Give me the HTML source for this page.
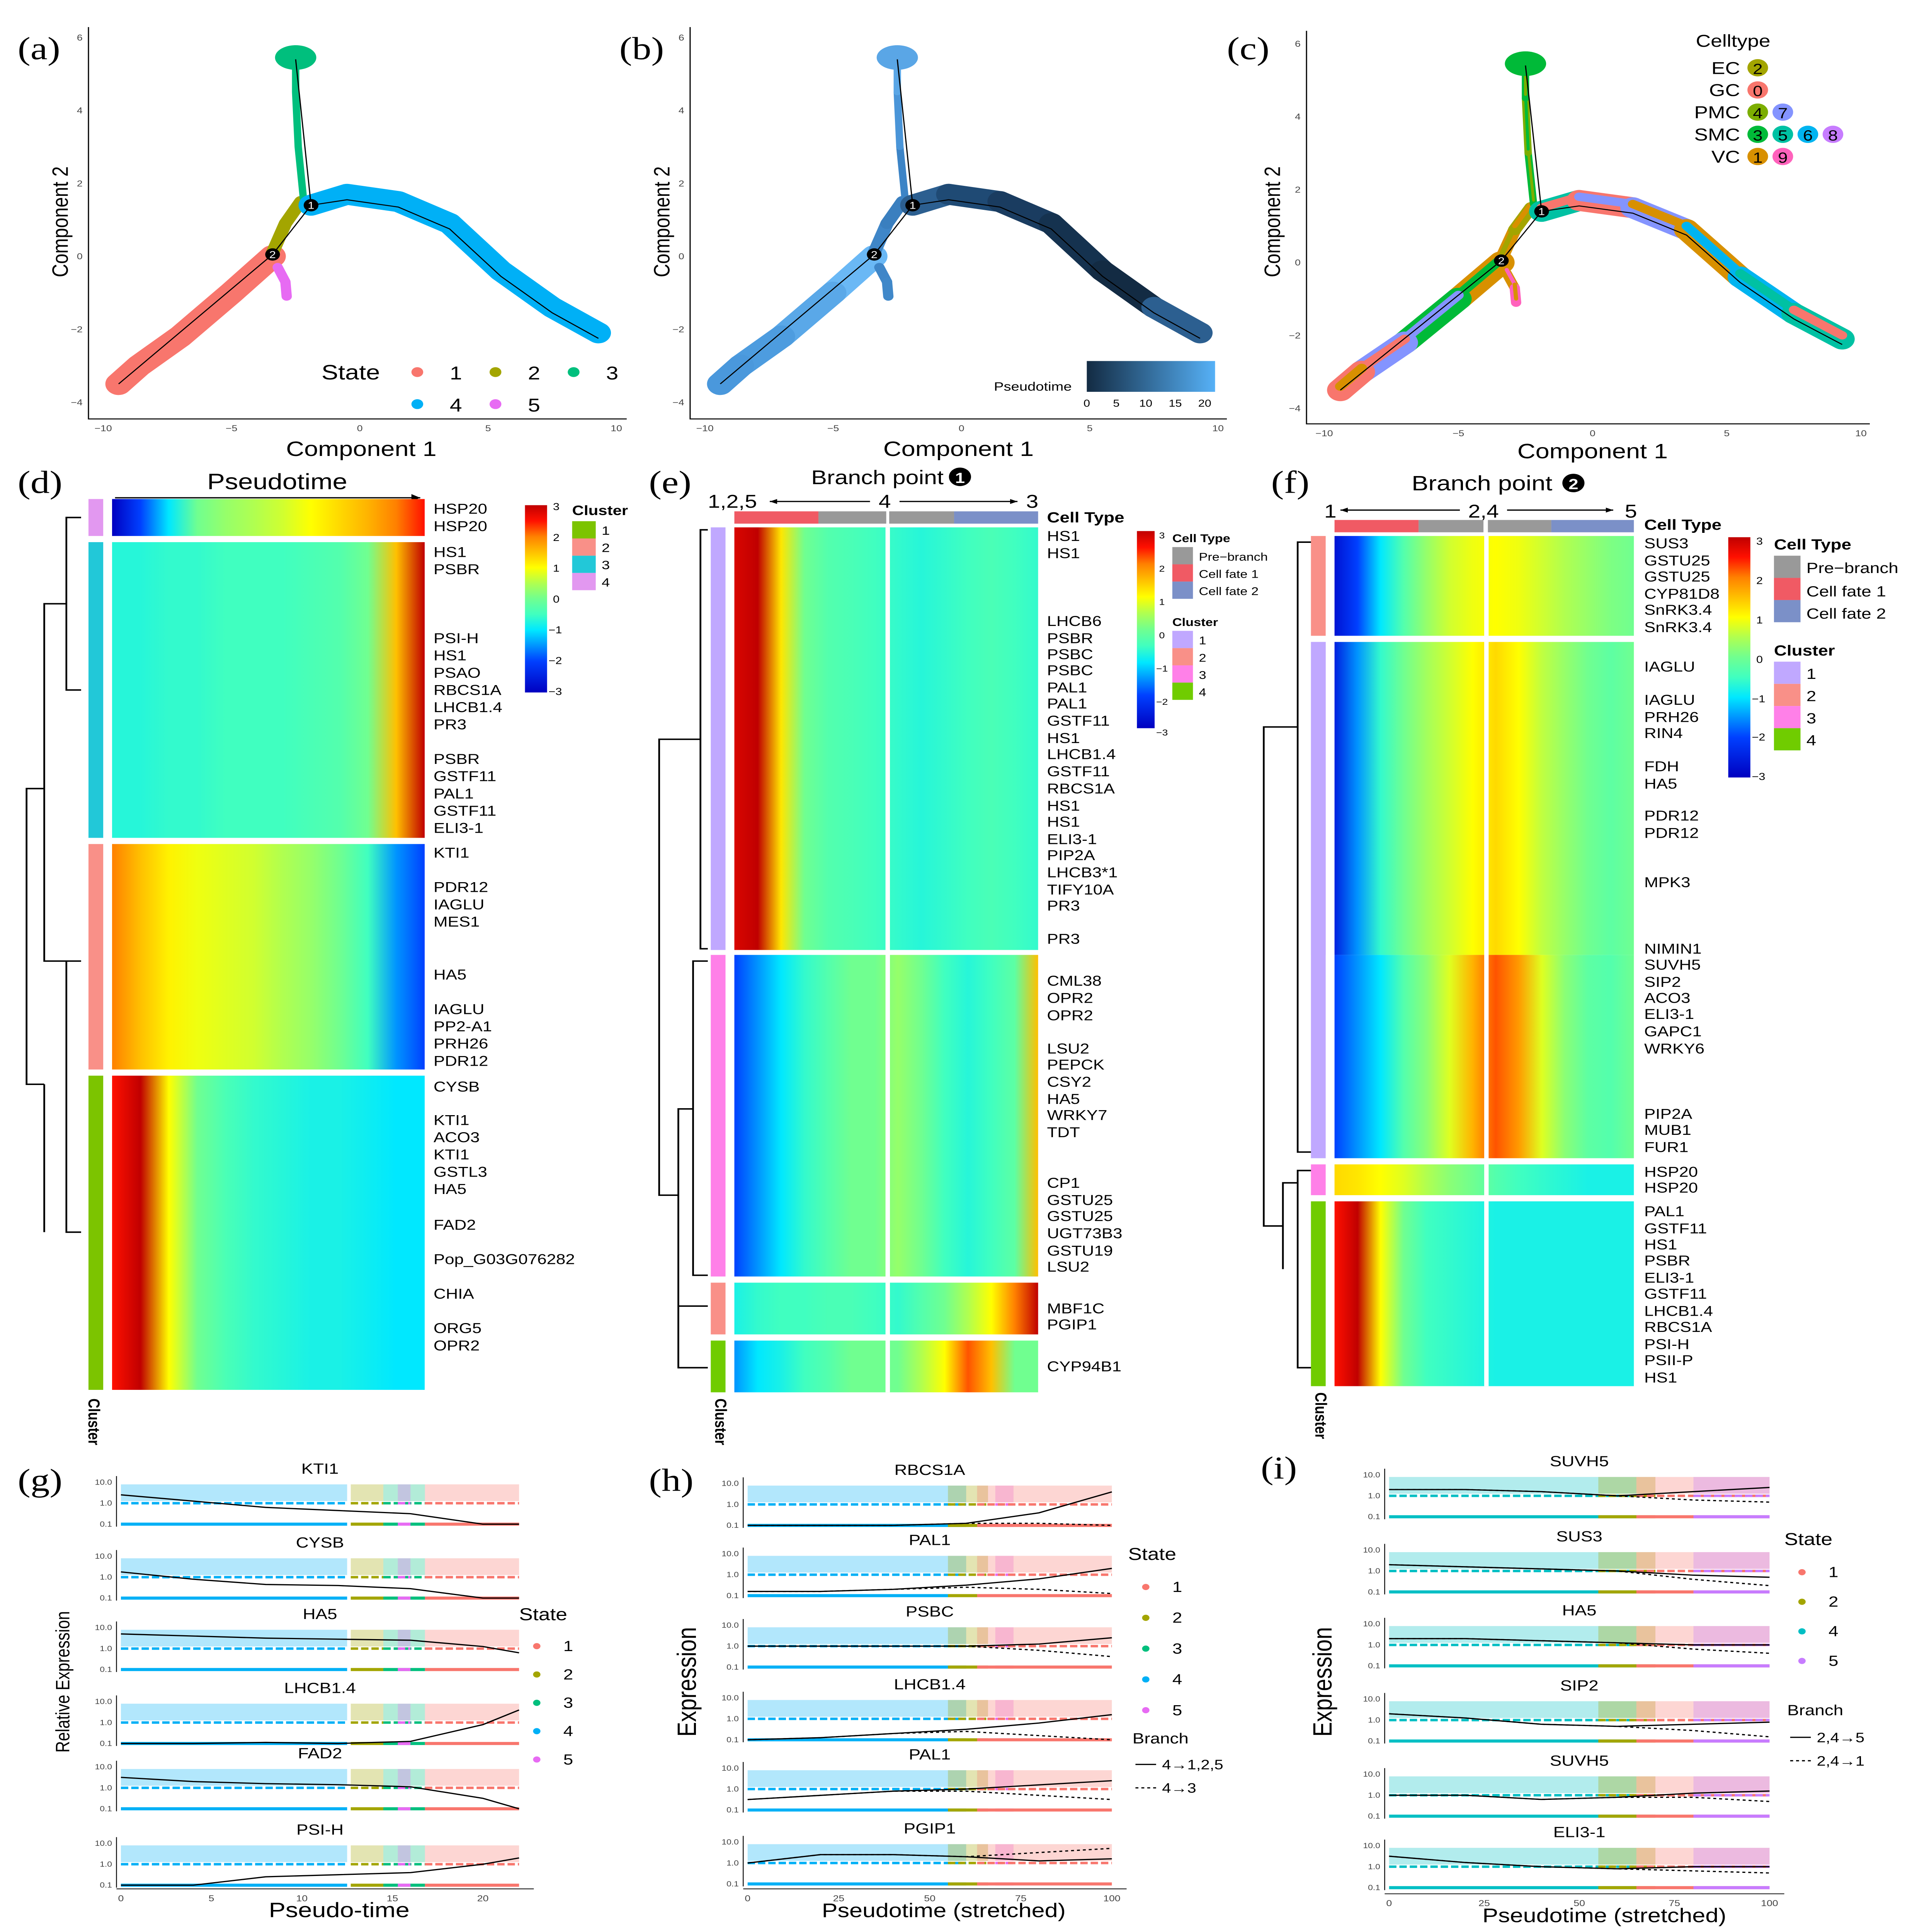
<!DOCTYPE html>
<html><head><meta charset="utf-8"><style>
html,body{margin:0;padding:0;background:#fff;overflow:hidden;width:100vw;height:100vh}
svg{display:block;width:100vw;height:100vh}
text{font-family:"Liberation Sans",sans-serif}
.serif{font-family:"Liberation Serif",serif}
</style></head><body>
<svg id="fig" xmlns="http://www.w3.org/2000/svg" viewBox="0 0 1300 1568" preserveAspectRatio="none">
<defs id="defs"></defs>
<rect x="0" y="0" width="1300" height="1568" fill="#fff"/>
<g id="static" font-size="12">
<text class="serif" x="12" y="48" font-size="26">(a)</text>
<text class="serif" x="420" y="48" font-size="26">(b)</text>
<text class="serif" x="832" y="48" font-size="26">(c)</text>
<text class="serif" x="12" y="400" font-size="26">(d)</text>
<text class="serif" x="440" y="400" font-size="26">(e)</text>
<text class="serif" x="862" y="400" font-size="26">(f)</text>
<text class="serif" x="12" y="1210" font-size="26">(g)</text>
<text class="serif" x="440" y="1210" font-size="26">(h)</text>
<text class="serif" x="855" y="1200" font-size="26">(i)</text>
<text x="245" y="370" font-size="17" text-anchor="middle">Component 1</text>
<text x="650" y="370" font-size="17" text-anchor="middle">Component 1</text>
<text x="1080" y="372" font-size="17" text-anchor="middle">Component 1</text>
<text transform="translate(46,180) rotate(-90)" font-size="15" text-anchor="middle">Component 2</text>
<text transform="translate(454,180) rotate(-90)" font-size="15" text-anchor="middle">Component 2</text>
<text transform="translate(868,180) rotate(-90)" font-size="15" text-anchor="middle">Component 2</text>
<g>
<text x="218" y="308" font-size="17">State</text>
<circle cx="283" cy="302" r="4" fill="#F8766D"/><text x="305" y="308" font-size="15">1</text>
<circle cx="336" cy="302" r="4" fill="#A3A500"/><text x="358" y="308" font-size="15">2</text>
<circle cx="389" cy="302" r="4" fill="#00BF7D"/><text x="411" y="308" font-size="15">3</text>
<circle cx="283" cy="328" r="4" fill="#00B0F6"/><text x="305" y="334" font-size="15">4</text>
<circle cx="336" cy="328" r="4" fill="#E76BF3"/><text x="358" y="334" font-size="15">5</text>
</g>
<g>
<text x="674" y="317" font-size="10">Pseudotime</text>
<rect x="737" y="293" width="87" height="25" fill="url(#ptgrad)"/>
<text x="737" y="330" font-size="8" text-anchor="middle">0</text>
<text x="757" y="330" font-size="8" text-anchor="middle">5</text>
<text x="777" y="330" font-size="8" text-anchor="middle">10</text>
<text x="797" y="330" font-size="8" text-anchor="middle">15</text>
<text x="817" y="330" font-size="8" text-anchor="middle">20</text>
</g>
<g font-size="14">
<text x="1150" y="38">Celltype</text>
<text x="1180" y="60" text-anchor="end">EC</text><circle cx="1192" cy="55" r="7" fill="#A3A500"/><text x="1192" y="60" text-anchor="middle" font-size="12">2</text>
<text x="1180" y="78" text-anchor="end">GC</text><circle cx="1192" cy="73" r="7" fill="#F8766D"/><text x="1192" y="78" text-anchor="middle" font-size="12">0</text>
<text x="1180" y="96" text-anchor="end">PMC</text><circle cx="1192" cy="91" r="7" fill="#7CAE00"/><text x="1192" y="96" text-anchor="middle" font-size="12">4</text><circle cx="1209" cy="91" r="7" fill="#8494FF"/><text x="1209" y="96" text-anchor="middle" font-size="12">7</text>
<text x="1180" y="114" text-anchor="end">SMC</text><circle cx="1192" cy="109" r="7" fill="#00BA38"/><text x="1192" y="114" text-anchor="middle" font-size="12">3</text><circle cx="1209" cy="109" r="7" fill="#00C1A3"/><text x="1209" y="114" text-anchor="middle" font-size="12">5</text><circle cx="1226" cy="109" r="7" fill="#00B4F0"/><text x="1226" y="114" text-anchor="middle" font-size="12">6</text><circle cx="1243" cy="109" r="7" fill="#C77CFF"/><text x="1243" y="114" text-anchor="middle" font-size="12">8</text>
<text x="1180" y="132" text-anchor="end">VC</text><circle cx="1192" cy="127" r="7" fill="#D89000"/><text x="1192" y="132" text-anchor="middle" font-size="12">1</text><circle cx="1209" cy="127" r="7" fill="#FF62BC"/><text x="1209" y="132" text-anchor="middle" font-size="12">9</text>
</g>
<text x="188" y="397" font-size="18" text-anchor="middle">Pseudotime</text>
<line x1="78" y1="404" x2="285" y2="404" stroke="#000" stroke-width="1"/><path d="M285,404 l-6,-3 v6z" fill="#000"/>
<text x="595" y="393" font-size="16" text-anchor="middle">Branch point</text>
<circle cx="651" cy="387" r="7.5" fill="#000"/><text x="651" y="392" font-size="12" fill="#fff" text-anchor="middle" font-weight="bold">1</text>
<text x="480" y="412" font-size="15">1,2,5</text><text x="600" y="412" font-size="15" text-anchor="middle">4</text><text x="700" y="412" font-size="15" text-anchor="middle">3</text>
<line x1="522" y1="407" x2="590" y2="407" stroke="#000"/><path d="M522,407 l5,-2 v4z"/><line x1="610" y1="407" x2="690" y2="407" stroke="#000"/><path d="M690,407 l-5,-2 v4z"/>
<text x="1005" y="398" font-size="17" text-anchor="middle">Branch point</text>
<circle cx="1067" cy="392" r="7.5" fill="#000"/><text x="1067" y="397" font-size="12" fill="#fff" text-anchor="middle" font-weight="bold">2</text>
<text x="898" y="420" font-size="15">1</text><text x="1006" y="420" font-size="15" text-anchor="middle">2,4</text><text x="1106" y="420" font-size="15" text-anchor="middle">5</text>
<line x1="909" y1="414" x2="990" y2="414" stroke="#000"/><path d="M909,414 l5,-2 v4z"/><line x1="1022" y1="414" x2="1094" y2="414" stroke="#000"/><path d="M1094,414 l-5,-2 v4z"/>
<g>
<rect x="498" y="415" width="57" height="10" fill="#F05A64"/><rect x="555" y="415" width="46" height="10" fill="#999"/><rect x="603" y="415" width="44" height="10" fill="#999"/><rect x="647" y="415" width="57" height="10" fill="#7B90C8"/>
</g>
<text x="710" y="424" font-size="12" font-weight="bold">Cell Type</text>
<g>
<rect x="905" y="422" width="57" height="10" fill="#F05A64"/><rect x="962" y="422" width="44" height="10" fill="#999"/><rect x="1009" y="422" width="43" height="10" fill="#999"/><rect x="1052" y="422" width="56" height="10" fill="#7B90C8"/>
</g>
<text x="1115" y="430" font-size="12" font-weight="bold">Cell Type</text>
<g font-size="8">
<rect x="356" y="410" width="15" height="152" fill="url(#cbar)"/>
<text x="375" y="414">3</text><text x="375" y="439">2</text><text x="375" y="464">1</text><text x="375" y="489">0</text><text x="372" y="514">−1</text><text x="372" y="539">−2</text><text x="372" y="564">−3</text>
<text x="388" y="418" font-size="11" font-weight="bold">Cluster</text>
<rect x="388" y="423" width="16" height="14" fill="#7CC400"/><text x="408" y="434" font-size="10">1</text>
<rect x="388" y="437" width="16" height="14" fill="#F99088"/><text x="408" y="448" font-size="10">2</text>
<rect x="388" y="451" width="16" height="14" fill="#22C8D8"/><text x="408" y="462" font-size="10">3</text>
<rect x="388" y="465" width="16" height="14" fill="#E298F0"/><text x="408" y="476" font-size="10">4</text>
</g>
<g font-size="7">
<rect x="771" y="431" width="12" height="160" fill="url(#cbar)"/>
<text x="786" y="437">3</text><text x="786" y="464">2</text><text x="786" y="491">1</text><text x="786" y="518">0</text><text x="784" y="545">−1</text><text x="784" y="572">−2</text><text x="784" y="597">−3</text>
<text x="795" y="440" font-size="9" font-weight="bold">Cell Type</text>
<rect x="795" y="444" width="14" height="14" fill="#999"/><text x="813" y="455" font-size="9">Pre−branch</text>
<rect x="795" y="458" width="14" height="14" fill="#F05A64"/><text x="813" y="469" font-size="9">Cell fate 1</text>
<rect x="795" y="472" width="14" height="14" fill="#7B90C8"/><text x="813" y="483" font-size="9">Cell fate 2</text>
<text x="795" y="508" font-size="9" font-weight="bold">Cluster</text>
<rect x="795" y="512" width="14" height="14" fill="#C0A8FF"/><text x="813" y="523" font-size="9">1</text>
<rect x="795" y="526" width="14" height="14" fill="#F99088"/><text x="813" y="537" font-size="9">2</text>
<rect x="795" y="540" width="14" height="14" fill="#FF80E8"/><text x="813" y="551" font-size="9">3</text>
<rect x="795" y="554" width="14" height="14" fill="#70CC00"/><text x="813" y="565" font-size="9">4</text>
</g>
<g font-size="8">
<rect x="1172" y="436" width="15" height="195" fill="url(#cbar)"/>
<text x="1191" y="442">3</text><text x="1191" y="474">2</text><text x="1191" y="506">1</text><text x="1191" y="538">0</text><text x="1188" y="570">−1</text><text x="1188" y="601">−2</text><text x="1188" y="633">−3</text>
<text x="1203" y="446" font-size="12" font-weight="bold">Cell Type</text>
<rect x="1203" y="451" width="18" height="18" fill="#999"/><text x="1225" y="465" font-size="12">Pre−branch</text>
<rect x="1203" y="469" width="18" height="18" fill="#F05A64"/><text x="1225" y="484" font-size="12">Cell fate 1</text>
<rect x="1203" y="487" width="18" height="18" fill="#7B90C8"/><text x="1225" y="502" font-size="12">Cell fate 2</text>
<text x="1203" y="532" font-size="12" font-weight="bold">Cluster</text>
<rect x="1203" y="537" width="18" height="18" fill="#C0A8FF"/><text x="1225" y="551" font-size="12">1</text>
<rect x="1203" y="555" width="18" height="18" fill="#F99088"/><text x="1225" y="569" font-size="12">2</text>
<rect x="1203" y="573" width="18" height="18" fill="#FF80E8"/><text x="1225" y="587" font-size="12">3</text>
<rect x="1203" y="591" width="18" height="18" fill="#70CC00"/><text x="1225" y="605" font-size="12">4</text>
</g>
<text transform="translate(60,1135) rotate(90)" font-size="11" font-weight="bold">Cluster</text>
<text transform="translate(485,1135) rotate(90)" font-size="11" font-weight="bold">Cluster</text>
<text transform="translate(892,1130) rotate(90)" font-size="11" font-weight="bold">Cluster</text>
<g stroke="#000" stroke-width="1.2" fill="none">
<path d="M55,420 H45 V560 H55 M45,490 H30 V780 H45 M55,780 H45 M45,780 V1000 H55 M30,640 H18 V880 H30 M30,880 V1000"/>
</g>
<g stroke="#000" stroke-width="1.2" fill="none">
<path d="M480,430 H475 V770 H480 M475,600 H447 V970 H460 M480,780 H470 V1035 H480 M470,900 H460 V1060 H480 M460,1060 V1110 H480"/>
</g>
<g stroke="#000" stroke-width="1.2" fill="none">
<path d="M890,440 H880 V935 H890 M880,590 H857 V995 H870 M890,950 H880 V1110 H890 M880,960 H870 V1030"/>
</g>
<text x="230" y="1556" font-size="17" text-anchor="middle">Pseudo-time</text>
<text x="640" y="1556" font-size="16" text-anchor="middle">Pseudotime (stretched)</text>
<text x="1088" y="1560" font-size="16" text-anchor="middle">Pseudotime (stretched)</text>
<text transform="translate(47,1365) rotate(-90)" font-size="13" text-anchor="middle">Relative Expression</text>
<text transform="translate(472,1365) rotate(-90)" font-size="18" text-anchor="middle">Expression</text>
<text transform="translate(903,1365) rotate(-90)" font-size="18" text-anchor="middle">Expression</text>
<g font-size="12">
<text x="352" y="1315" font-size="14">State</text>
<circle cx="364" cy="1336" r="2.5" fill="#F8766D"/><text x="382" y="1340">1</text>
<circle cx="364" cy="1359" r="2.5" fill="#A3A500"/><text x="382" y="1363">2</text>
<circle cx="364" cy="1382" r="2.5" fill="#00BF7D"/><text x="382" y="1386">3</text>
<circle cx="364" cy="1405" r="2.5" fill="#00B0F6"/><text x="382" y="1409">4</text>
<circle cx="364" cy="1428" r="2.5" fill="#E76BF3"/><text x="382" y="1432">5</text>
</g>
<g font-size="12">
<text x="765" y="1266" font-size="14">State</text>
<circle cx="777" cy="1288" r="2.5" fill="#F8766D"/><text x="795" y="1292">1</text>
<circle cx="777" cy="1313" r="2.5" fill="#A3A500"/><text x="795" y="1317">2</text>
<circle cx="777" cy="1338" r="2.5" fill="#00BF7D"/><text x="795" y="1342">3</text>
<circle cx="777" cy="1363" r="2.5" fill="#00B0F6"/><text x="795" y="1367">4</text>
<circle cx="777" cy="1388" r="2.5" fill="#E76BF3"/><text x="795" y="1392">5</text>
<text x="768" y="1415">Branch</text>
<line x1="770" y1="1432" x2="784" y2="1432" stroke="#000"/><text x="788" y="1436" font-size="11">4→1,2,5</text>
<line x1="770" y1="1451" x2="784" y2="1451" stroke="#000" stroke-dasharray="2,2"/><text x="788" y="1455" font-size="11">4→3</text>
</g>
<g font-size="12">
<text x="1210" y="1254" font-size="14">State</text>
<circle cx="1222" cy="1276" r="2.5" fill="#F8766D"/><text x="1240" y="1280">1</text>
<circle cx="1222" cy="1300" r="2.5" fill="#A3A500"/><text x="1240" y="1304">2</text>
<circle cx="1222" cy="1324" r="2.5" fill="#00BFC4"/><text x="1240" y="1328">4</text>
<circle cx="1222" cy="1348" r="2.5" fill="#C77CFF"/><text x="1240" y="1352">5</text>
<text x="1212" y="1392">Branch</text>
<line x1="1214" y1="1410" x2="1228" y2="1410" stroke="#000"/><text x="1232" y="1414" font-size="11">2,4→5</text>
<line x1="1214" y1="1429" x2="1228" y2="1429" stroke="#000" stroke-dasharray="2,2"/><text x="1232" y="1433" font-size="11">2,4→1</text>
</g>
</g>
<g id="dyn"></g>
</svg>
<script>
var cmapVals = [-3,-2,-1,-0.5,0,0.5,1,1.5,2,2.5,3];
var cmapCols = ['#0000c0','#0040ff','#00e8ff','#40ffc0','#70ff90','#b0ff50','#ffff00','#ffc000','#ff8000','#ff1000','#c00000'];
var stateNames = ['1','2','3','4','5'];
var stateColors = ['#F8766D','#A3A500','#00BF7D','#00B0F6','#E76BF3'];
var trajX = [
  [-3.4,-5,-7,-8.6,-9.4],
  [-3.4,-2.9,-2.3],
  [-2.2,-2.4,-2.5,-2.5],
  [-1.9,-0.5,1.5,3.5,5.5,7.5,9.3],
  [-3.2,-2.9,-2.85]
];
var trajY = [
  [0.0,-1.0,-2.2,-3.0,-3.5],
  [0.1,0.9,1.5],
  [1.6,3.0,4.5,5.5],
  [1.4,1.7,1.5,0.9,-0.4,-1.4,-2.1],
  [-0.3,-0.7,-1.1]
];
var trajW = [18,9,5,17,7];
var bColors = [['#6ab8f5','#5aa8e8','#4d9cdf','#4a98dc','#5fb2f2'],['#3f86c8','#3a7fbf'],['#3c84c6','#4a95d8','#5aa6e6','#5aa6e6'],['#2c5f90','#1f4a74','#1a3c60','#15324f','#132b43'],['#3f86c8','#4088c9','#4189cb']];
var cMix = [['#D89000','#00BA38','#8494FF','#F8766D'],['#D89000','#A3A500'],['#00BA38','#7CAE00'],['#00C1A3','#F8766D','#8494FF','#D89000','#00B4F0'],['#D89000','#FF62BC']];
var nodeX = [-1.9,-3.4], nodeY = [1.4,0.05];

var dBlocks = [
  [-3,-2,-1,0,0.3,0.5,0.7,1,1.3,1.6,2,2.5],
  [-0.7,-0.7,-0.6,-0.6,-0.5,-0.5,-0.5,-0.4,-0.3,0,1.5,3],
  [2,1.5,1.1,0.9,0.8,0.7,0.5,0.3,0,-0.5,-1.5,-2],
  [2.5,3,1,0,-0.4,-0.6,-0.7,-0.8,-0.8,-0.9,-1,-1]
];
var eBlocks = [
  [2.8,3,1.2,0,-0.3,-0.4,-0.5,-0.6,-0.7,-0.6,-0.5,-0.4,-0.5,-0.6],
  [-2,-1.5,-1,-0.6,-0.3,0,0,0.3,0,-0.5,-0.7,-0.5,-0.2,1.5],
  [-0.8,-0.6,-0.5,-0.5,-0.4,-0.4,-0.5,-0.6,-0.3,0,0.5,1,2,3],
  [-1.5,-1,-0.8,-0.5,-0.3,0,0,0,0.5,1,2.2,1.5,0,0]
];
var fBlocks = [
  [-2.7,-2,-1,-0.3,0.3,0.7,0.9,1,0.9,0.7,0.5,0.3,0.1,0],
  [-2.5,-1.5,-0.6,0,0.4,0.7,1,1.3,1,0.6,0.3,0,-0.2,0],
  [-2,-1.5,-1,-0.3,0.2,0.8,1.6,2.2,1.8,0.8,0.2,-0.2,-0.3,0],
  [1.3,1.2,1,0.8,0.5,0.2,0,-0.3,-0.5,-0.6,-0.7,-0.8,-0.8,-0.8],
  [2.5,3,1,0,-0.5,-0.6,-0.7,-0.8,-0.8,-0.8,-0.8,-0.8,-0.8,-0.8]
];
var dGenes = ['HSP20','HSP20','HS1','PSBR','PSI-H','HS1','PSAO','RBCS1A','LHCB1.4','PR3','PSBR','GSTF11','PAL1','GSTF11','ELI3-1','KTI1','PDR12','IAGLU','MES1','HA5','IAGLU','PP2-A1','PRH26','PDR12','CYSB','KTI1','ACO3','KTI1','GSTL3','HA5','FAD2','Pop_G03G076282','CHIA','ORG5','OPR2'];
var dGeneY = [413,427,448,462,518,532,546,560,574,588,616,630,644,658,672,692,720,734,748,791,819,833,847,861,882,909,923,937,951,965,994,1022,1050,1078,1092];
var eGenes = ['HS1','HS1','LHCB6','PSBR','PSBC','PSBC','PAL1','PAL1','GSTF11','HS1','LHCB1.4','GSTF11','RBCS1A','HS1','HS1','ELI3-1','PIP2A','LHCB3*1','TIFY10A','PR3','PR3','CML38','OPR2','OPR2','LSU2','PEPCK','CSY2','HA5','WRKY7','TDT','CP1','GSTU25','GSTU25','UGT73B3','GSTU19','LSU2','MBF1C','PGIP1','CYP94B1'];
var eGeneY = [435,449,504,518,531,544,558,571,585,599,612,626,640,654,667,681,694,708,722,735,762,796,810,824,851,864,878,892,905,919,960,974,987,1001,1015,1028,1062,1075,1109];
var fGenes = ['SUS3','GSTU25','GSTU25','CYP81D8','SnRK3.4','SnRK3.4','IAGLU','IAGLU','PRH26','RIN4','FDH','HA5','PDR12','PDR12','MPK3','NIMIN1','SUVH5','SIP2','ACO3','ELI3-1','GAPC1','WRKY6','PIP2A','MUB1','FUR1','HSP20','HSP20','PAL1','GSTF11','HS1','PSBR','ELI3-1','GSTF11','LHCB1.4','RBCS1A','PSI-H','PSII-P','HS1'];
var fGeneY = [441,455,468,482,495,509,541,568,582,595,622,636,662,676,716,770,783,797,810,823,837,851,904,917,931,951,964,983,997,1010,1023,1037,1050,1064,1077,1091,1104,1118];

var gGenes = ['KTI1','CYSB','HA5','LHCB1.4','FAD2','PSI-H'];
var gT = [0,4,8,12,16,20,22];
var gSolid = [[0.4,0.1,-0.2,-0.35,-0.5,-1,-1],[0.25,-0.1,-0.35,-0.4,-0.55,-1,-1],[0.7,0.6,0.5,0.45,0.4,0.1,-0.2],[-1,-1,-0.95,-1,-0.9,-0.1,0.6],[0.5,0.3,0.2,0.15,0.05,-0.5,-1],[-1,-1,-0.6,-0.5,-0.4,0,0.3]];
var gTicks = [0,5,10,15,20];
var gSegState = [3,1,2,4,0];
var gSegT0 = [0,12.7,14.5,15.3,16.8];
var gSegT1 = [12.5,14.5,16.8,16,22];
var hGenes = ['RBCS1A','PAL1','PSBC','LHCB1.4','PAL1','PGIP1'];
var hT = [0,20,40,60,80,100];
var hSolid = [[-1,-1,-1,-0.9,-0.4,0.6],[-0.8,-0.8,-0.7,-0.5,-0.2,0.3],[0,0,0,0,0.1,0.4],[-1,-0.9,-0.7,-0.5,-0.2,0.2],[-0.5,-0.3,-0.1,0,0.2,0.4],[0,0.4,0.4,0.3,0.1,0.2]];
var hDash = [[-1,-1,-1,-0.9,-0.9,-1],[-0.8,-0.8,-0.7,-0.6,-0.7,-0.9],[0,0,0,0,-0.2,-0.5],[-1,-0.9,-0.7,-0.6,-0.8,-1],[-0.5,-0.3,-0.1,-0.1,-0.3,-0.5],[0,0.4,0.4,0.3,0.5,0.7]];
var hTicks = [0,25,50,75,100];
var hSegState = [3,1,4,0];
var hSegT0 = [0,55,68,63];
var hSegT1 = [60,66,73,100];
var iGenes = ['SUVH5','SUS3','HA5','SIP2','SUVH5','ELI3-1'];
var iSolid = [[0.3,0.3,0.2,0,0.2,0.4],[0.3,0.2,0.1,0,-0.2,-0.3],[0.3,0.3,0.2,0.1,0,0],[0.3,0.1,-0.2,-0.3,-0.2,-0.1],[0,0,-0.2,-0.1,0.1,0.2],[0.5,0.2,0,-0.1,0,0]];
var iDash = [[0.3,0.3,0.2,0,-0.2,-0.3],[0.3,0.2,0.1,0,-0.4,-0.7],[0.3,0.3,0.2,0.1,-0.2,-0.4],[0.3,0.1,-0.2,-0.3,-0.5,-0.8],[0,0,-0.2,-0.1,-0.1,-0.3],[0.5,0.2,0,-0.1,-0.2,-0.3]];
var iSegState = [3,1,0,4];
var iSegT0 = [0,55,65,80];
var iSegT1 = [65,70,100,100];
var iColors = ['#F8766D','#A3A500','#00BF7D','#00BFC4','#C77CFF'];

var NS='http://www.w3.org/2000/svg';
var dyn=document.getElementById('dyn'), defs=document.getElementById('defs');
function mk(tag,parent){var e=document.createElementNS(NS,tag);(parent||dyn).appendChild(e);return e;}
function zcol(v){
  if(v<=cmapVals[0])return cmapCols[0];
  for(var i=1;i<cmapVals.length;i++){if(v<=cmapVals[i]){var f=(v-cmapVals[i-1])/(cmapVals[i]-cmapVals[i-1]);return mix(cmapCols[i-1],cmapCols[i],f);}}
  return cmapCols[cmapCols.length-1];
}
function mix(a,b,f){var pa=parseInt(a.slice(1),16),pb=parseInt(b.slice(1),16);var r=[16,8,0].map(function(s){var x=(pa>>s)&255,y=(pb>>s)&255;return Math.round(x+(y-x)*f);});return 'rgb('+r.join(',')+')';}
(function(){var g=mk('linearGradient',defs);g.setAttribute('id','cbar');g.setAttribute('x1','0');g.setAttribute('y1','1');g.setAttribute('x2','0');g.setAttribute('y2','0');
cmapVals.forEach(function(v,i){var s=mk('stop',g);s.setAttribute('offset',(v+3)/6);s.setAttribute('stop-color',cmapCols[i]);});
var p=mk('linearGradient',defs);p.setAttribute('id','ptgrad');[['0','#132B43'],['1','#56B1F7']].forEach(function(q){var s=mk('stop',p);s.setAttribute('offset',q[0]);s.setAttribute('stop-color',q[1]);});})();
var gid=0;
function hgrad(vals){var id='hg'+(gid++);var g=mk('linearGradient',defs);g.setAttribute('id',id);
vals.forEach(function(v,i){var s=mk('stop',g);s.setAttribute('offset',i/(vals.length-1));s.setAttribute('stop-color',zcol(v));});return 'url(#'+id+')';}

function trajPanel(name,x0,sx,y0,sy,axL,axB,axR,axT,colorMode){
  var g=mk('g');
  
  
  var X=function(v){return x0+v*sx;}, Y=function(v){return y0-v*sy;};
  var ax=mk('path',g);ax.setAttribute('d','M'+axL+','+axT+' V'+axB+' H'+axR);ax.setAttribute('stroke','#000');ax.setAttribute('fill','none');ax.setAttribute('stroke-width','0.8');
  [-10,-5,0,5,10].forEach(function(t){var tx=mk('text',g);tx.setAttribute('x',X(t));tx.setAttribute('y',axB+10);tx.setAttribute('font-size','7');tx.setAttribute('text-anchor','middle');tx.setAttribute('fill','#444');tx.textContent=(t<0?'−':'')+Math.abs(t);});
  [-4,-2,0,2,4,6].forEach(function(t){var tx=mk('text',g);tx.setAttribute('x',axL-4);tx.setAttribute('y',Y(t)+2.5);tx.setAttribute('font-size','7');tx.setAttribute('text-anchor','end');tx.setAttribute('fill','#444');tx.textContent=(t<0?'−':'')+Math.abs(t);});
  for(var s=0;s<trajX.length;s++){
    var pts=trajX[s].map(function(v,i){return X(v)+','+Y(trajY[s][i]);});
    if(colorMode==='state'){
      var pl=mk('polyline',g);
      
      
      pl.setAttribute('points',pts.join(' '));pl.setAttribute('stroke',stateColors[s]);pl.setAttribute('stroke-width',trajW[s]);pl.setAttribute('fill','none');pl.setAttribute('stroke-linecap','round');pl.setAttribute('stroke-linejoin','round');
    } else {
      var cols=colorMode==='pt'?bColors[s]:cMix[s];
      for(var k=0;k<trajX[s].length-1;k++){
        var ln=mk('line',g);
        
        
        ln.setAttribute('x1',X(trajX[s][k]));ln.setAttribute('y1',Y(trajY[s][k]));ln.setAttribute('x2',X(trajX[s][k+1]));ln.setAttribute('y2',Y(trajY[s][k+1]));
        ln.setAttribute('stroke',cols[k%cols.length]);ln.setAttribute('stroke-width',trajW[s]);ln.setAttribute('stroke-linecap','round');
      }
      if(colorMode==='mix'){
        for(var k2=0;k2<trajX[s].length-1;k2++){var l2=mk('line',g);
          
          
          l2.setAttribute('x1',X(trajX[s][k2]));l2.setAttribute('y1',Y(trajY[s][k2])-3);l2.setAttribute('x2',X(trajX[s][k2+1]));l2.setAttribute('y2',Y(trajY[s][k2+1])-3);
          l2.setAttribute('stroke',cols[(k2+1)%cols.length]);l2.setAttribute('stroke-width',trajW[s]*0.4);l2.setAttribute('stroke-linecap','round');}
      }
    }
    if(s===2){var bl=mk('ellipse',g);
      
      
      bl.setAttribute('cx',X(-2.5));bl.setAttribute('cy',Y(5.45));bl.setAttribute('rx',14);bl.setAttribute('ry',10);
      bl.setAttribute('fill',colorMode==='state'?stateColors[2]:(colorMode==='pt'?'#5aa6e6':'#00BA38'));}
  }
  var bbPts=[X(-9.4)+','+Y(-3.5),X(nodeX[1])+','+Y(nodeY[1]),X(nodeX[0])+','+Y(nodeY[0])];
  for(var q=1;q<trajX[3].length;q++){bbPts.push(X(trajX[3][q])+','+Y(trajY[3][q]-0.15));}
  var bb=mk('polyline',g);bb.setAttribute('points',bbPts.join(' '));bb.setAttribute('stroke','#000');bb.setAttribute('fill','none');bb.setAttribute('stroke-width','0.8');
  var bb2=mk('polyline',g);bb2.setAttribute('points',[X(nodeX[0])+','+Y(nodeY[0]),X(-2.5)+','+Y(5.4)].join(' '));bb2.setAttribute('stroke','#000');bb2.setAttribute('fill','none');bb2.setAttribute('stroke-width','0.8');
  nodeX.forEach(function(nx,i){var c=mk('circle',g);
    
    
    c.setAttribute('cx',X(nx));c.setAttribute('cy',Y(nodeY[i]));c.setAttribute('r',5);c.setAttribute('fill','#000');
    var t=mk('text',g);t.setAttribute('x',X(nx));t.setAttribute('y',Y(nodeY[i])+3);t.setAttribute('font-size','8');t.setAttribute('fill','#fff');t.setAttribute('text-anchor','middle');t.textContent=i+1;});
}
trajPanel('trajectory-state-plot',244,17.4,208,29.6,60,340,425,22,'state');
trajPanel('trajectory-pseudotime-plot',652,17.4,208,29.6,468,340,832,22,'pt');
trajPanel('trajectory-celltype-plot',1080,18.2,213,29.6,886,344,1268,25,'mix');

function heat(name,x0,x1,blocks,yr,clCols,divider,genes,gy,lx){
  var g=mk('g');
  
  
  blocks.forEach(function(vals,i){
    var r=mk('rect',g);
    
    
    r.setAttribute('x',x0);r.setAttribute('y',yr[i][0]);r.setAttribute('width',x1-x0);r.setAttribute('height',yr[i][1]-yr[i][0]);r.setAttribute('fill',hgrad(vals));
    if(clCols[i]){var c=mk('rect',g);
      
      
      c.setAttribute('x',x0-16);c.setAttribute('y',yr[i][0]);c.setAttribute('width',10);c.setAttribute('height',yr[i][1]-yr[i][0]);c.setAttribute('fill',clCols[i]);}
  });
  if(divider){var d=mk('rect',g);d.setAttribute('x',divider-1.5);d.setAttribute('y',yr[0][0]);d.setAttribute('width',3);d.setAttribute('height',yr[yr.length-1][1]-yr[0][0]);d.setAttribute('fill','#fff');}
  genes.forEach(function(gn,i){var t=mk('text',g);
    
    
    t.setAttribute('x',lx);t.setAttribute('y',gy[i]+4);t.setAttribute('font-size','11.5');t.textContent=gn;});
}
heat('heatmap-d',76,288,dBlocks,[[405,435],[440,680],[685,868],[873,1128]],['#E298F0','#22C8D8','#F99088','#7CC400'],0,dGenes,dGeneY,294);
heat('heatmap-e',498,704,eBlocks,[[428,771],[775,1036],[1041,1083],[1088,1130]],['#C0A8FF','#FF80E8','#F99088','#70CC00'],602,eGenes,eGeneY,710);
heat('heatmap-f',905,1108,fBlocks,[[435,516],[521,775],[775,940],[945,970],[975,1125]],['#F99088','#C0A8FF',null,'#FF80E8','#70CC00'],1008,fGenes,fGeneY,1115);
(function(){var c=mk('rect');c.setAttribute('x',889);c.setAttribute('y',521);c.setAttribute('width',10);c.setAttribute('height',419);c.setAttribute('fill','#C0A8FF');})();

function expr(name,xL,xR,tmax,genes,titleY,T,solid,dash,ticks,segS,segA,segB,cols,axisY){
  var g=mk('g');
  
  
  var X=function(t){return xL+t/tmax*(xR-xL);};
  genes.forEach(function(gn,r){
    var y0=titleY[r];var Y=function(v){return y0+28-v*17;};
    var tt=mk('text',g);
    
    
    tt.setAttribute('x',(xL+xR)/2);tt.setAttribute('y',y0+4);tt.setAttribute('font-size','12');tt.setAttribute('text-anchor','middle');tt.textContent=gn;
    var ya=mk('line',g);ya.setAttribute('x1',xL-3);ya.setAttribute('x2',xL-3);ya.setAttribute('y1',y0+6);ya.setAttribute('y2',y0+47);ya.setAttribute('stroke','#000');ya.setAttribute('stroke-width','0.6');
    [['10.0',1],['1.0',0],['0.1',-1]].forEach(function(q){var t=mk('text',g);t.setAttribute('x',xL-6);t.setAttribute('y',Y(q[1])+2);t.setAttribute('font-size','6');t.setAttribute('text-anchor','end');t.setAttribute('fill','#444');t.textContent=q[0];});
    for(var s=0;s<segS.length;s++){
      var c=cols[segS[s]];
      var cl=mk('rect',g);
      
      
      cl.setAttribute('x',X(segA[s]));cl.setAttribute('width',X(segB[s])-X(segA[s]));cl.setAttribute('y',Y(0.9));cl.setAttribute('height',Y(0.1)-Y(0.9));cl.setAttribute('fill',c);cl.setAttribute('opacity','0.3');
      var l1=mk('line',g);
      
      
      l1.setAttribute('x1',X(segA[s]));l1.setAttribute('x2',X(segB[s]));l1.setAttribute('y1',Y(0));l1.setAttribute('y2',Y(0));l1.setAttribute('stroke',c);l1.setAttribute('stroke-width','2');l1.setAttribute('stroke-dasharray','5,2');
      var l0=mk('line',g);
      
      
      l0.setAttribute('x1',X(segA[s]));l0.setAttribute('x2',X(segB[s]));l0.setAttribute('y1',Y(-1));l0.setAttribute('y2',Y(-1));l0.setAttribute('stroke',c);l0.setAttribute('stroke-width','2.5');
    }
    var sp=mk('polyline',g);
    
    
    sp.setAttribute('points',T.map(function(t,i){return X(t)+','+Y(solid[r][i]);}).join(' '));sp.setAttribute('stroke','#000');sp.setAttribute('fill','none');sp.setAttribute('stroke-width','1');
    if(dash){var dp=mk('polyline',g);
      
      
      dp.setAttribute('points',T.map(function(t,i){return X(t)+','+Y(dash[r][i]);}).join(' '));dp.setAttribute('stroke','#000');dp.setAttribute('fill','none');dp.setAttribute('stroke-width','1');dp.setAttribute('stroke-dasharray','2,2');}
  });
  var xa=mk('line',g);xa.setAttribute('x1',xL-3);xa.setAttribute('x2',xR+10);xa.setAttribute('y1',axisY);xa.setAttribute('y2',axisY);xa.setAttribute('stroke','#000');xa.setAttribute('stroke-width','0.6');
  ticks.forEach(function(t){var tx=mk('text',g);tx.setAttribute('x',X(t));tx.setAttribute('y',axisY+10);tx.setAttribute('font-size','7');tx.setAttribute('text-anchor','middle');tx.setAttribute('fill','#444');tx.textContent=t;});
}
expr('expression-panel-g',82,352,22,gGenes,[1192,1252,1310,1370,1423,1485],gT,gSolid,null,gTicks,gSegState,gSegT0,gSegT1,stateColors,1533);
expr('expression-panel-h',507,754,100,hGenes,[1193,1250,1308,1367,1424,1484],hT,hSolid,hDash,hTicks,hSegState,hSegT0,hSegT1,stateColors,1533);
expr('expression-panel-i',942,1200,100,iGenes,[1186,1247,1307,1368,1429,1487],hT,iSolid,iDash,hTicks,iSegState,iSegT0,iSegT1,iColors,1537);
</script>
</body></html>
